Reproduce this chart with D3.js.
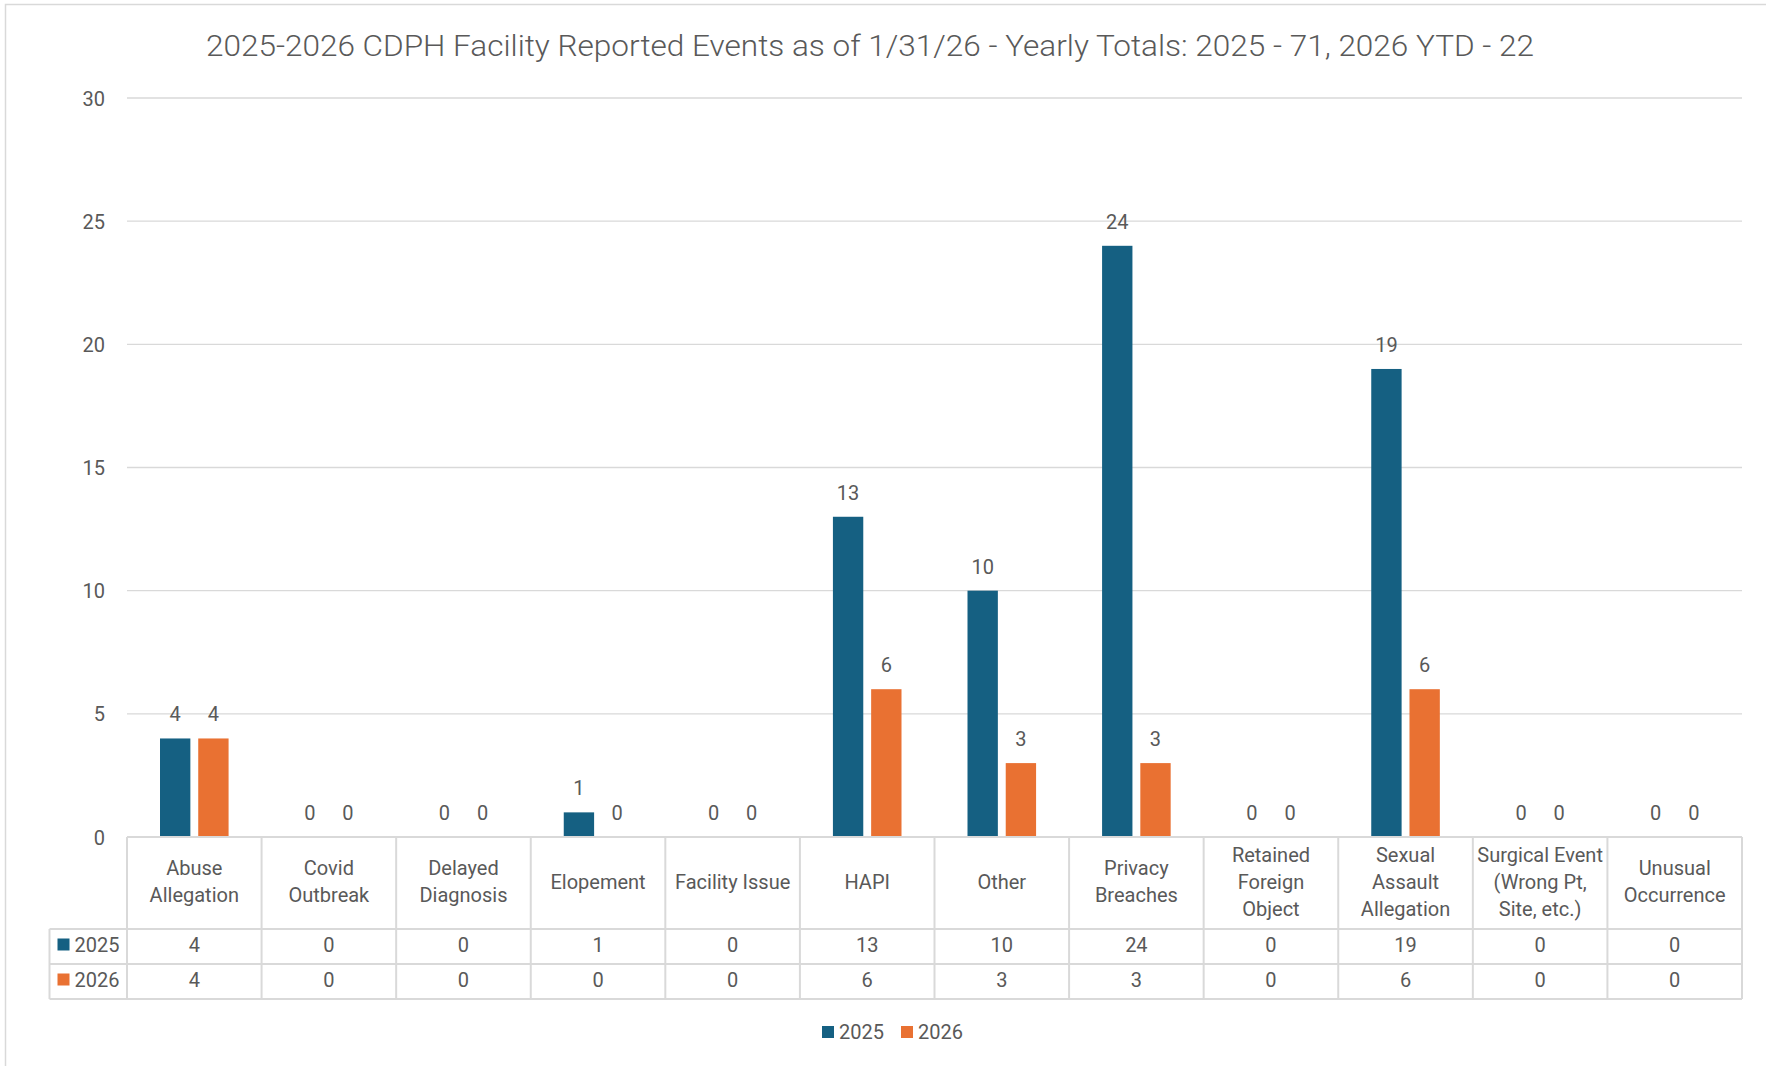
<!DOCTYPE html>
<html>
<head>
<meta charset="utf-8">
<script src="https://cdn.jsdelivr.net/npm/d3@7"></script>
<style>
  body { margin: 0; background: #fff; }
  svg text { font-family: "Liberation Sans Narrow", "Arial Narrow", "Roboto", sans-serif; fill: #595959; }
</style>
</head>
<body>
<svg id="chart"></svg>
<script>
const categories = ["Abuse Allegation", "Covid Outbreak", "Delayed Diagnosis", "Elopement", "Facility Issue",
  "HAPI", "Other", "Privacy Breaches", "Retained Foreign Object", "Sexual Assault Allegation",
  "Surgical Event (Wrong Pt, Site, etc.)", "Unusual Occurrence"]
const years = ["2025", "2026"]
const values2025 = [4, 0, 0, 1, 0, 13, 10, 24, 0, 19, 0, 0]
const values2026 = [4, 0, 0, 0, 0, 6, 3, 3, 0, 6, 0, 0]
const yTicks = [0, 5, 10, 15, 20, 25, 30]
const title = "2025-2026 CDPH Facility Reported Events as of 1/31/26 - Yearly Totals: 2025 - 71, 2026 YTD - 22"

let width = 1766
let height = 1066
let colors = { "2025": "#156082", "2026": "#E97132" }
let grid = "#D9D9D9"

let plotLeft = 127, plotRight = 1742
let plotTop = 98, plotBottom = 837
let headerBottom = 929, rowH = 35
let keyLeft = 49.5

let seriesByYear = { "2025": values2025, "2026": values2026 }

let svg = d3.select('#chart')
  .attr('width', width)
  .attr('height', height)

// chart area border
svg.append('rect')
  .attr('x', 5.5).attr('y', 4.5)
  .attr('width', width + 10).attr('height', height + 10)
  .attr('fill', 'none').attr('stroke', grid).attr('stroke-width', 1.5)

// title
svg.append('text')
  .attr('x', 870).attr('y', 45)
  .attr('text-anchor', 'middle')
  .attr('dominant-baseline', 'central')
  .attr('font-size', 30)
  .attr('font-weight', 300)
  .attr('textLength', 1328)
  .attr('lengthAdjust', 'spacingAndGlyphs')
  .text(title)

let x0 = d3.scaleBand()
  .domain(categories)
  .range([plotLeft, plotRight])

let x1 = d3.scaleBand()
  .domain(years)
  .range([33, x0.bandwidth() - 33])
  .paddingInner(0.206)

let y = d3.scaleLinear()
  .domain([0, 30])
  .range([plotBottom, plotTop])

// gridlines
svg.append('g')
  .selectAll('line')
  .data(yTicks.filter(d => d > 0))
  .join('line')
  .attr('x1', plotLeft).attr('x2', plotRight)
  .attr('y1', d => y(d)).attr('y2', d => y(d))
  .attr('stroke', grid).attr('stroke-width', 1.3)

// y axis labels
let yAxis = svg.append('g')
  .attr('transform', `translate(${plotLeft - 22},0)`)
  .call(d3.axisLeft(y).tickValues(yTicks).tickSize(0).tickPadding(0))
yAxis.select('.domain').remove()
yAxis.selectAll('text')
  .attr('font-size', 20)
  .attr('dy', null)
  .attr('dominant-baseline', 'central')
yAxis.attr('font-family', null)

// bars
let groups = svg.append('g')
  .selectAll('g')
  .data(categories)
  .join('g')
  .attr('transform', d => `translate(${x0(d)},0)`)

years.forEach(yr => {
  groups.append('rect')
    .attr('x', x1(yr))
    .attr('width', x1.bandwidth())
    .attr('y', (d, i) => y(seriesByYear[yr][i]))
    .attr('height', (d, i) => y(0) - y(seriesByYear[yr][i]))
    .attr('fill', colors[yr])

  groups.append('text')
    .attr('x', x1(yr) + x1.bandwidth() / 2)
    .attr('y', (d, i) => y(seriesByYear[yr][i]) - 24)
    .attr('text-anchor', 'middle')
    .attr('dominant-baseline', 'central')
    .attr('font-size', 20)
    .text((d, i) => seriesByYear[yr][i])
})

// data table
let table = svg.append('g')

let hLines = [
  [plotLeft, plotBottom],
  [keyLeft, headerBottom],
  [keyLeft, headerBottom + rowH],
  [keyLeft, headerBottom + 2 * rowH]
]
table.selectAll('line.h')
  .data(hLines)
  .join('line')
  .attr('class', 'h')
  .attr('x1', d => d[0]).attr('x2', plotRight)
  .attr('y1', d => d[1]).attr('y2', d => d[1])
  .attr('stroke', grid).attr('stroke-width', 2)

let colEdges = categories.map(c => x0(c)).concat([plotRight])
table.selectAll('line.v')
  .data(colEdges)
  .join('line')
  .attr('class', 'v')
  .attr('x1', d => d).attr('x2', d => d)
  .attr('y1', plotBottom).attr('y2', headerBottom + 2 * rowH)
  .attr('stroke', grid).attr('stroke-width', 2)

table.append('line')
  .attr('x1', keyLeft).attr('x2', keyLeft)
  .attr('y1', headerBottom).attr('y2', headerBottom + 2 * rowH)
  .attr('stroke', grid).attr('stroke-width', 2)

// category headers, wrapped to the cell width
let lineH = 27
let headers = table.selectAll('text.cat')
  .data(categories)
  .join('text')
  .attr('class', 'cat')
  .attr('text-anchor', 'middle')
  .attr('font-size', 20)

headers.each(function(d) {
  let el = d3.select(this)
  let words = d.split(' ')
  let lines = []
  let cur = ''
  let probe = el.append('tspan')
  words.forEach(w => {
    let test = cur ? cur + ' ' + w : w
    probe.text(test)
    if (probe.node().getComputedTextLength() > x0.bandwidth() - 6 && cur) {
      lines.push(cur)
      cur = w
    } else {
      cur = test
    }
  })
  lines.push(cur)
  probe.remove()
  let cx = x0(d) + x0.bandwidth() / 2
  let cy = (plotBottom + headerBottom) / 2 - 1.5
  lines.forEach((ln, k) => {
    el.append('tspan')
      .attr('x', cx)
      .attr('y', cy + (k - (lines.length - 1) / 2) * lineH)
      .attr('dominant-baseline', 'central')
      .text(ln)
  })
})

// value rows
years.forEach((yr, r) => {
  let cy = headerBottom + r * rowH + rowH / 2 - 2
  table.selectAll('text.v' + yr)
    .data(seriesByYear[yr])
    .join('text')
    .attr('x', (d, i) => x0(categories[i]) + x0.bandwidth() / 2)
    .attr('y', cy)
    .attr('text-anchor', 'middle')
    .attr('dominant-baseline', 'central')
    .attr('font-size', 20)
    .text(d => d)

  table.append('rect')
    .attr('x', keyLeft + 8).attr('y', cy - 6)
    .attr('width', 12).attr('height', 12)
    .attr('fill', colors[yr])
  table.append('text')
    .attr('x', keyLeft + 25).attr('y', cy)
    .attr('dominant-baseline', 'central')
    .attr('font-size', 20)
    .text(yr)
})

// legend
let legend = svg.append('g')
  .selectAll('g')
  .data(years)
  .join('g')
  .attr('transform', (d, i) => `translate(${822 + i * 79},1032)`)

legend.append('rect')
  .attr('x', 0).attr('y', -6)
  .attr('width', 12).attr('height', 12)
  .attr('fill', d => colors[d])
legend.append('text')
  .attr('x', 17).attr('y', 0)
  .attr('dominant-baseline', 'central')
  .attr('font-size', 20)
  .text(d => d)
</script>
</body>
</html>
